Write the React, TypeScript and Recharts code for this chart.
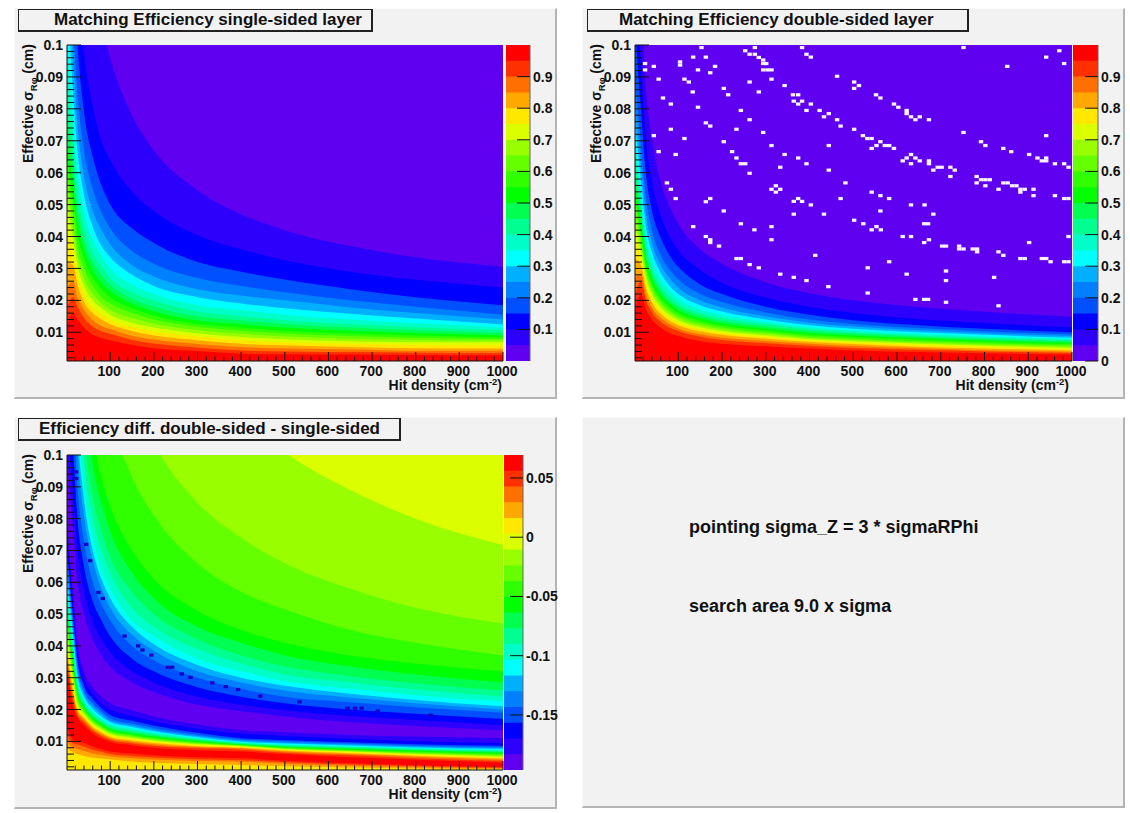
import React from "react";
import { ComposedChart, Area, Scatter, XAxis, YAxis, ReferenceArea } from "recharts";

const FONT = "'Liberation Sans', Arial, sans-serif";

// Sampled hit densities (cm^-2) at which the colour-band boundaries were read.
const hitDensity = [1, 15, 25, 40, 60, 80, 100, 150, 200, 300, 400, 500, 650, 800, 1000];

// Palette, bottom band to top band.
const palette = [
  "#6000f0", "#2c00fa", "#0000ff", "#0050ff", "#0080ff", "#00b0ff", "#00ffff", "#00ffc8", "#00ff90", "#00ff50",
  "#00ff00", "#30ff00", "#66ff00", "#99ff00", "#dcff00", "#ffe800", "#ffa800", "#ff7000", "#ff3000", "#ff0000",
];

// Single-sided efficiency: boundary sigma (10^-3 cm) vs hit density, per efficiency level.
const single05 = [300, 248, 192, 152, 124, 107, 96, 78, 67, 54.5, 47, 42, 37, 33.5, 30.5];
const single10 = [260, 155, 122, 98, 81, 70, 64, 54, 48, 40.4, 36, 32.6, 29, 26.5, 24];
const single15 = [200, 125, 100, 79, 65, 56, 50, 42.5, 38, 32, 29, 26.5, 23.5, 21, 18.5];
const single20 = [170, 108, 85, 67, 55, 47.5, 42.5, 35.5, 31.5, 27, 24.5, 22.5, 20, 18, 15.5];
const single25 = [140, 96, 75, 59, 48, 42, 37.5, 31, 27.5, 23.5, 21.5, 20, 17.8, 16, 14];
const single30 = [118, 85, 67, 53, 43, 37, 33.5, 28, 24.5, 21, 19, 17.5, 15.8, 14.3, 12.4];
const single35 = [100, 76, 60, 48, 39, 34, 30, 25, 22, 18.5, 17, 15.5, 14, 12.8, 11.4];
const single40 = [90, 68, 54, 43, 35, 30.5, 27, 22.5, 20, 16.5, 15, 13.8, 12.6, 11.6, 10.6];
const single45 = [80, 62, 49, 39, 32, 28, 25, 20.5, 18, 15, 13.7, 12.6, 11.5, 10.6, 9.8];
const single50 = [71, 56, 45, 36, 29.5, 25.5, 23, 19, 16.5, 13.7, 12.5, 11.5, 10.5, 9.8, 9];
const single55 = [65, 52, 41, 33, 27, 23.5, 21, 17.5, 15.2, 12.6, 11.5, 10.5, 9.6, 9, 8.4];
const single60 = [60, 47, 37, 30, 24.5, 21, 19, 16, 14, 11.7, 10.5, 9.6, 8.8, 8.3, 7.9];
const single65 = [55, 43, 34, 27, 22, 19, 17, 14.5, 12.7, 10.7, 9.5, 8.7, 8, 7.6, 7.4];
const single70 = [50, 39, 31, 24.5, 20, 17.5, 15.5, 13, 11.5, 9.7, 8.5, 7.8, 7.2, 6.9, 6.9];
const single75 = [42, 35, 28, 22, 18, 15.7, 14, 11.7, 10.3, 8.7, 7.5, 6.9, 6.4, 6.1, 5.9];
const single80 = [32, 31, 25, 19.5, 16, 14, 12.5, 10.4, 9, 7.5, 6.4, 5.9, 5.4, 5, 4.9];
const single85 = [24, 26, 21, 17, 13.8, 12, 11, 8.9, 7.7, 6.3, 5.3, 4.9, 4.6, 4.2, 4.2];
const single90 = [18, 21, 18, 14.5, 11.8, 10.3, 9.5, 7.6, 6.5, 5.2, 4.3, 4, 3.8, 3.6, 3.5];
const single95 = [12, 16, 14, 11.5, 9.3, 8.2, 7.5, 6, 5, 4.1, 3.3, 3.1, 3, 2.9, 2.8];

// Double-sided efficiency: boundary sigma per hit density column, efficiency levels 0.05 .. 0.95.
const doubleAt1 = [150, 125, 105, 90, 82, 75, 70, 65, 61, 57, 53, 50, 46, 43, 39, 33, 27, 22, 17];
const doubleAt15 = [115, 93, 79, 68, 62, 57, 53, 49, 46.5, 44, 41, 39, 37, 35, 33, 31, 28.5, 26, 22];
const doubleAt25 = [88, 72, 61, 53, 48, 44, 41, 38, 36, 34, 32, 30.4, 29, 27.6, 26, 24.4, 22.4, 20.6, 17.6];
const doubleAt40 = [70, 57, 48, 42, 38, 35, 32.5, 30, 28.5, 27, 25.3, 24, 23, 21.8, 20.6, 19.3, 17.7, 16.3, 14];
const doubleAt60 = [57, 46.5, 39.5, 34, 31, 28.5, 26.5, 24.5, 23.2, 22, 20.6, 19.6, 18.7, 17.8, 16.8, 15.7, 14.5, 13.3, 11.4];
const doubleAt80 = [49.5, 40, 34, 29.7, 27, 24.6, 23, 21.3, 20, 19, 18, 17, 16.2, 15.4, 14.5, 13.6, 12.5, 11.5, 9.8];
const doubleAt100 = [44, 35.7, 30.5, 26.5, 24, 22, 20.5, 19, 18, 17, 16, 15.2, 14.5, 13.8, 13, 12.2, 11.2, 10.3, 8.8];
const doubleAt150 = [36, 29.5, 25, 22, 20, 18.5, 17.2, 16, 15.2, 14.4, 13.6, 12.9, 12.2, 11.6, 11, 10.3, 9.4, 8.6, 7.2];
const doubleAt200 = [31.5, 25.5, 22, 19.5, 17.8, 16.5, 15.4, 14.4, 13.6, 12.8, 12.1, 11.5, 10.9, 10.4, 9.8, 9.2, 8.4, 7.6, 6.4];
const doubleAt300 = [25.7, 20.8, 18, 16.2, 15, 14, 13.2, 12.6, 11.9, 11.2, 10.6, 10, 9.5, 9, 8.6, 8, 7.3, 6.6, 5.6];
const doubleAt400 = [22.2, 18, 15.5, 14, 13, 12.2, 11.5, 11, 10.4, 9.8, 9.2, 8.7, 8.2, 7.8, 7.4, 7, 6.4, 5.8, 4.9];
const doubleAt500 = [20, 16, 13.8, 12.6, 11.8, 11.1, 10.5, 10, 9.5, 9, 8.5, 8, 7.6, 7.2, 6.8, 6.3, 5.7, 5.1, 4.3];
const doubleAt650 = [17.9, 14.1, 12.2, 11.3, 10.6, 10, 9.5, 9, 8.6, 8.1, 7.7, 7.2, 6.8, 6.4, 6, 5.5, 5, 4.5, 3.8];
const doubleAt800 = [16.4, 12.9, 11.1, 10.3, 9.7, 9.2, 8.7, 8.3, 7.9, 7.4, 7, 6.6, 6.2, 5.8, 5.4, 4.9, 4.4, 4, 3.4];
const doubleAt1000 = [14.9, 11.5, 10, 9.3, 8.8, 8.3, 7.9, 7.5, 7.1, 6.7, 6.3, 5.9, 5.5, 5.1, 4.7, 4.3, 3.9, 3.5, 3];

// Efficiency difference, upper slope: boundary below which band 13, 12 ... 0 begins.
const diffUpper13 = [900, 580, 450, 356, 290, 252, 225, 184, 159, 130, 113, 101, 89, 80, 71.7];
const diffUpper12 = [400, 377, 292, 231, 188, 163, 146, 120, 104, 85, 74, 66, 58, 52, 47];
const diffUpper11 = [300, 292, 226, 179, 146, 127, 113, 93, 81, 66, 57, 51.5, 45, 41, 37];
const diffUpper10 = [250, 212, 165, 131, 107, 93, 84, 70, 61, 51, 45, 41, 37, 34.5, 32];
const diffUpper9 = [220, 193, 150, 119, 97, 85, 76, 63, 55, 46, 41, 37, 33.5, 31, 28.5];
const diffUpper8 = [200, 173, 134, 106, 87, 76, 68, 57, 50, 42, 37, 33.5, 30.5, 28.3, 26];
const diffUpper7 = [185, 160, 124, 98, 80, 70, 63, 52, 46, 39, 34.5, 31, 28.5, 26.3, 24];
const diffUpper6 = [170, 147, 114, 90, 74, 64, 58, 48, 43, 36, 32, 29, 26.5, 24.5, 22.5];
const diffUpper5 = [160, 140, 108, 86, 70, 61, 55, 46, 40.5, 34, 30, 27.5, 25, 23, 21];
const diffUpper4 = [150, 132, 102, 81, 67, 58, 52, 43.5, 38.5, 32, 28.5, 26, 23.8, 22, 20];
const diffUpper3 = [135, 115, 90, 73, 60, 53, 48, 40, 35.5, 30, 26.5, 24, 22.3, 20.7, 19];
const diffUpper2 = [120, 101, 80, 65, 54, 48, 43, 36, 32, 27, 24, 22, 20, 18.7, 17];
const diffUpper1 = [110, 88, 70, 57, 47.5, 42, 38, 32, 28.5, 24, 21.5, 19.8, 18, 16.7, 15.1];
const diffUpper0 = [100, 76, 60, 50, 42, 37, 33.5, 28.5, 25.5, 21.5, 19.5, 17.8, 16, 14.8, 13.5];

// Efficiency difference, lower slope per hit density column: bands 1..19, then 18, 17, 16, 15.
const diffLowerBands = [1, 2, 3, 4, 5, 6, 7, 8, 9, 10, 11, 12, 13, 14, 15, 16, 17, 18, 19, 18, 17, 16, 15];
const diffLowAt1 = [80, 74, 70, 67, 64, 61, 59, 56, 53, 51, 49, 47, 45, 43, 41, 39, 37, 35, 33, 14.5, 12, 10, 8];
const diffLowAt15 = [56, 52, 49, 47, 45, 43, 41, 39, 37, 35, 33.5, 32, 30.5, 29, 27.5, 26, 24.5, 23, 21, 10.5, 9.3, 8, 6.5];
const diffLowAt25 = [41, 38, 35.5, 33.5, 32, 30.5, 29, 27.8, 26.6, 25.5, 24.5, 23.5, 22.5, 21.5, 20.7, 20, 19.2, 18.4, 17.5, 10, 9, 7.6, 6];
const diffLowAt40 = [32, 29.5, 27.5, 26, 25, 24, 23, 22.2, 21.5, 20.8, 20.2, 19.6, 19, 18.5, 18, 17.4, 16.8, 16, 15, 9.5, 8.3, 7, 5.4];
const diffLowAt60 = [27, 25, 23.3, 22, 21, 20.2, 19.4, 18.7, 18, 17.5, 17, 16.5, 16, 15.5, 15, 14.5, 14, 13.3, 12.5, 8.4, 7.4, 6.2, 4.9];
const diffLowAt80 = [24, 22, 20.4, 19.5, 18.6, 17.8, 17.2, 16.5, 16, 15.5, 15, 14.6, 14.2, 13.8, 13.3, 12.8, 12.3, 11.7, 11, 7.5, 6.7, 5.8, 4.6];
const diffLowAt100 = [22, 20, 18.3, 17.3, 16.5, 16, 15.4, 14.9, 14.3, 13.8, 13.4, 13, 12.6, 12.2, 11.9, 11.4, 11, 10.5, 9.9, 6.8, 6, 5.3, 4.3];
const diffLowAt150 = [19.8, 18, 16.5, 15.6, 15, 14.5, 14, 13.5, 13, 12.5, 12.1, 11.8, 11.4, 11.1, 10.7, 10.3, 9.9, 9.4, 8.8, 6.2, 5.4, 4.7, 3.7];
const diffLowAt200 = [17.8, 16.3, 15, 14.2, 13.6, 13.2, 12.8, 12.3, 11.9, 11.5, 11.1, 10.8, 10.5, 10.2, 9.9, 9.5, 9.1, 8.6, 8, 5.6, 4.9, 4.3, 3.3];
const diffLowAt300 = [15.3, 14, 12.7, 12.1, 11.7, 11.3, 11, 10.7, 10.4, 10.1, 9.8, 9.5, 9.3, 9.1, 8.8, 8.5, 8.2, 7.8, 7.2, 5, 4.4, 3.8, 2.9];
const diffLowAt400 = [13.5, 12.5, 11, 10.6, 10.3, 9.9, 9.7, 9.5, 9.2, 9, 8.9, 8.7, 8.6, 8.5, 8.3, 8, 7.8, 7.4, 6.8, 4.7, 4.1, 3.6, 2.6];
const diffLowAt500 = [12.9, 11.7, 10.4, 10, 9.6, 9.3, 9, 8.8, 8.5, 8.3, 8.1, 7.9, 7.7, 7.5, 7.3, 7.1, 6.8, 6.4, 6, 3.9, 3.4, 3, 2.2];
const diffLowAt650 = [12, 10.8, 9.7, 9.3, 9, 8.7, 8.4, 8.2, 7.9, 7.7, 7.4, 7.2, 7, 6.8, 6.6, 6.3, 6, 5.6, 5, 3.1, 2.7, 2.3, 1.8];
const diffLowAt800 = [11.5, 10, 9.1, 8.7, 8.4, 8.1, 7.8, 7.6, 7.3, 7.1, 6.8, 6.5, 6.2, 6, 5.8, 5.5, 5.2, 4.7, 4.2, 2.5, 2.2, 1.9, 1.5];
const diffLowAt1000 = [11, 9.4, 8.6, 8.2, 7.9, 7.6, 7.3, 7, 6.7, 6.4, 6.1, 5.8, 5.5, 5.2, 4.9, 4.6, 4.2, 3.8, 3.3, 1.9, 1.7, 1.5, 1.3];

// Empty (white) cells in the double-sided map: [hit density, sigma in 10^-3 cm].
const whiteCells: [number, number][] = [
  [153, 99.2], [253, 98.2], [275, 99.2], [263, 97.1], [275, 97.1], [284, 96.1], [134, 96.2], [163, 96.2], [403, 96.2], [383, 99.2], [393, 97.1],
  [294, 95.3], [301, 94.2], [294, 94.2], [104, 94.7], [104, 93.7], [24, 94.2], [44, 93.3], [184, 93.3], [24, 92.2], [145, 92.2], [173, 91.3], [294, 92.2], [304, 92.2], [313, 92.2],
  [463, 90.2], [55, 89.3], [114, 89.3], [124, 88.4], [263, 88.4], [313, 89.3], [343, 87.3], [502, 88.4], [502, 86.4], [204, 86.4], [133, 85.3], [284, 85.3], [214, 84.4], [362, 84.4], [374, 84.4],
  [65, 83.4], [364, 82.4], [383, 82.4], [83, 81.5], [374, 81.5], [403, 81.5], [145, 80.5], [243, 79.5], [393, 79.5], [423, 79.5], [444, 78.5], [433, 77.5], [263, 76.6], [463, 76.6], [163, 75.6], [173, 74.6], [471, 74.6],
  [83, 73.6], [233, 73.6], [502, 73.6], [294, 72.6], [44, 71.6], [114, 70.7], [204, 69.7], [313, 68.5], [444, 68.5], [55, 66.6], [223, 66.6], [94, 65.7], [343, 65.7], [233, 64.6], [374, 64.6], [243, 62.8], [253, 62.8], [393, 62.8], [333, 61.7], [263, 59.8], [444, 60.8],
  [74, 56.8], [482, 56.8], [323, 55.9], [313, 54.8], [333, 54.8], [323, 53.9], [83, 54.8], [94, 51.9], [173, 51.9], [374, 51.9], [471, 51.9],
  [752, 99.2], [971, 98.2], [941, 96.2], [982, 94.2], [852, 93.3], [513, 87.3], [552, 84.4], [562, 83.4], [593, 81.5], [603, 80.5], [622, 79.5], [622, 78.5], [632, 77.5], [642, 76.6], [652, 77.5], [673, 76.6],
  [752, 72.6], [522, 71.6], [532, 70.7], [542, 70.7], [941, 71.6], [562, 69.7], [572, 68.5], [582, 68.5], [593, 67.6], [553, 68.5], [542, 67.6], [792, 69.7], [802, 68.5], [843, 67.6], [861, 66.6],
  [902, 65.7], [921, 64.6], [931, 63.7], [941, 63.7], [941, 64.6], [961, 62.8], [982, 62.8], [992, 61.7], [632, 65.7], [622, 64.6], [642, 64.6], [613, 63.7], [632, 62.8], [652, 63.7], [673, 63.7], [673, 62.8],
  [683, 60.8], [693, 61.7], [702, 61.7], [722, 61.7], [732, 60.8], [722, 58.8], [782, 58.8], [782, 56.8], [792, 57.8], [802, 57.8], [812, 57.8], [802, 55.9], [832, 54.8], [843, 56.8], [853, 56.8], [863, 55.9], [873, 55.9], [882, 54.8], [892, 54.8], [882, 53.9], [912, 54.8], [912, 52.8],
  [542, 53.9], [562, 52.8], [582, 51.9], [961, 52.8], [982, 51.9], [992, 51.9],
  [163, 50.9], [204, 48], [243, 44], [364, 51], [383, 51], [403, 49.9], [364, 47], [433, 47], [502, 45.1], [134, 43.1], [274, 42.1], [313, 43.1], [163, 40], [173, 39], [173, 38.1], [193, 37],
  [313, 39], [413, 34.1], [233, 33.1], [243, 33.1], [263, 31.2], [284, 30.2], [333, 28.2], [364, 27.2], [393, 26.2], [443, 24.3],
  [632, 49.9], [663, 49.9], [562, 48], [683, 47], [523, 44], [662, 44], [671, 44], [553, 43.1], [542, 42.1], [563, 42.1], [613, 40], [632, 40], [992, 40], [673, 39], [662, 38.1], [902, 38.1],
  [703, 37], [712, 37], [742, 37], [742, 36.1], [752, 36.1], [773, 36.1], [783, 36.1], [783, 35.2], [832, 35.2], [843, 34.1], [882, 33.1], [892, 33.1], [931, 33.1], [941, 33.1], [951, 32.1], [982, 32.1], [992, 32.1], [582, 32.1],
  [533, 30.2], [622, 28.2], [712, 29.2], [712, 26.2], [822, 27.2], [533, 22.3], [642, 20.3], [662, 20.3], [671, 20.3], [712, 19.4], [832, 18.3],
];

// Darker cells that show through in the difference map.
const darkCells: [number, number][] = [
  [22, 94.7], [22, 92.6], [45, 71.9], [54, 66.8], [73, 56.8], [83, 54.9], [133, 43.1], [164, 40], [174, 38.7], [194, 37.1], [232, 33.3], [242, 33.3], [264, 31.2], [284, 30.1],
  [334, 28.4], [365, 27.2], [393, 26.3], [444, 24.2], [534, 22.4], [644, 20.4], [661, 20.4], [676, 20.4], [713, 19.5], [834, 18.2],
];

const efficiencyEdges = [1, 0.95, 0.9, 0.85, 0.8, 0.75, 0.7, 0.65, 0.6, 0.55, 0.5, 0.45, 0.4, 0.35, 0.3, 0.25, 0.2, 0.15, 0.1, 0.05];
const diffEdges = [0.0694, 0.0561, 0.0428, 0.0295, 0.0162, 0.0029, -0.0104, -0.0237, -0.037, -0.0503, -0.0636, -0.0769, -0.0902, -0.1035, -0.1168, -0.1301, -0.1434, -0.1567, -0.17, -0.1833];
const efficiencyTicksNoZero = [0.1, 0.2, 0.3, 0.4, 0.5, 0.6, 0.7, 0.8, 0.9];
const efficiencyTicks = [0, 0.1, 0.2, 0.3, 0.4, 0.5, 0.6, 0.7, 0.8, 0.9];
const diffTicks = [-0.15, -0.1, -0.05, 0, 0.05];
const sigmaTicks = [2, 4, 6, 8, 10, 12, 14, 16, 18, 20, 22, 24, 26, 28, 30, 32, 34, 36, 38, 40, 42, 44, 46, 48, 50, 52, 54, 56, 58, 60, 62, 64, 66, 68, 70, 72, 74, 76, 78, 80, 82, 84, 86, 88, 90, 92, 94, 96, 98, 100];
const densityTicks = [20, 40, 60, 80, 100, 120, 140, 160, 180, 200, 220, 240, 260, 280, 300, 320, 340, 360, 380, 400, 420, 440, 460, 480, 500, 520, 540, 560, 580, 600, 620, 640, 660, 680, 700, 720, 740, 760, 780, 800, 820, 840, 860, 880, 900, 920, 940, 960, 980, 1000];

const singleLevels = [single05, single10, single15, single20, single25, single30, single35, single40, single45, single50, single55, single60, single65, single70, single75, single80, single85, single90, single95];
const doubleColumns = [doubleAt1, doubleAt15, doubleAt25, doubleAt40, doubleAt60, doubleAt80, doubleAt100, doubleAt150, doubleAt200, doubleAt300, doubleAt400, doubleAt500, doubleAt650, doubleAt800, doubleAt1000];
const diffUpperLevels = [diffUpper13, diffUpper12, diffUpper11, diffUpper10, diffUpper9, diffUpper8, diffUpper7, diffUpper6, diffUpper5, diffUpper4, diffUpper3, diffUpper2, diffUpper1, diffUpper0];
const diffLowColumns = [diffLowAt1, diffLowAt15, diffLowAt25, diffLowAt40, diffLowAt60, diffLowAt80, diffLowAt100, diffLowAt150, diffLowAt200, diffLowAt300, diffLowAt400, diffLowAt500, diffLowAt650, diffLowAt800, diffLowAt1000];

const transpose = (columns: number[][]) => columns[0].map((_, i) => columns.map((c) => c[i]));
const toRows = (levels: number[][]) =>
  hitDensity.map((x, i) => {
    const row: Record<string, number> = { x };
    levels.forEach((lv, k) => (row["c" + k] = lv[i]));
    return row;
  });

const bandSeq19 = [1, 2, 3, 4, 5, 6, 7, 8, 9, 10, 11, 12, 13, 14, 15, 16, 17, 18, 19];
const diffUpperBands = [13, 12, 11, 10, 9, 8, 7, 6, 5, 4, 3, 2, 1, 0];

const singleRows = toRows(singleLevels);
const doubleRows = toRows(transpose(doubleColumns));
const diffLevels = [...diffUpperLevels, ...transpose(diffLowColumns)];
const diffRows = toRows(diffLevels);
const diffBands = [...diffUpperBands, ...diffLowerBands];

const fmtTick = (v: number) => String(Number(v.toFixed(3)));

const XTick = (props: any) => {
  const { x, y, payload } = props;
  const major = payload.value % 100 === 0;
  return (
    <g>
      <line x1={x} x2={x} y1={y} y2={y - (major ? 9 : 4.5)} stroke="#111" strokeWidth={1} />
      {major && (
        <text x={x - 1} y={y + 14.5} textAnchor="middle" fontFamily={FONT} fontWeight="bold" fontSize={14} fill="#111">
          {payload.value}
        </text>
      )}
    </g>
  );
};

const YTick = (props: any) => {
  const { x, y, payload } = props;
  const major = payload.value % 10 === 0;
  return (
    <g>
      <line x1={x} x2={x + (major ? 14 : 7)} y1={y} y2={y} stroke="#111" strokeWidth={1} />
      {major && (
        <text x={x - 4} y={y + 5} textAnchor="end" fontFamily={FONT} fontWeight="bold" fontSize={14} fill="#111">
          {fmtTick(payload.value / 1000)}
        </text>
      )}
    </g>
  );
};

const BarTick = (props: any) => {
  const { x, y, payload } = props;
  return (
    <g>
      <line x1={x - 13} x2={x} y1={y} y2={y} stroke="#111" strokeWidth={1} />
      <text x={x + 3} y={y + 5} fontFamily={FONT} fontWeight="bold" fontSize={14} fill="#111">
        {fmtTick(payload.value)}
      </text>
    </g>
  );
};

const cellShape = (fill: string) => (p: any) => <rect x={p.cx - 2.2} y={p.cy - 1.6} width={4.4} height={3.2} fill={fill} />;

type MapProps = {
  left: number; top: number; bottom: number; plotLeft: number; plotRight: number; padTop: number; padBottom: number;
  rows: Record<string, number>[]; bands: number[]; background: number; cells?: [number, number][]; cellColor?: string;
};

function HeatMap({ plotLeft, plotRight, top, bottom, left, padTop, padBottom, rows, bands, background, cells, cellColor }: MapProps) {
  const yAxisW = plotLeft - left;
  const xAxisH = padBottom - bottom;
  const points = cells ? cells.map(([x, sigma]) => ({ x, sigma })) : [];
  return (
    <div style={{ position: "absolute", left, top: padTop }}>
      <ComposedChart
        width={plotRight - left + 30}
        height={padBottom - padTop}
        data={rows}
        margin={{ left: 0, right: 30, top: top - padTop, bottom: 0 }}
      >
        <XAxis type="number" dataKey="x" domain={[1, 1000]} allowDataOverflow ticks={densityTicks} interval={0} tick={XTick} tickLine={false} tickSize={0} tickMargin={0} height={xAxisH} axisLine={{ stroke: "#111" }} />
        <YAxis type="number" domain={[1, 100]} allowDataOverflow ticks={sigmaTicks} interval={0} tick={YTick} tickLine={false} tickSize={0} tickMargin={0} width={yAxisW} axisLine={{ stroke: "#111" }} />
        <ReferenceArea x1={1} x2={1000} y1={1} y2={100} fill={palette[background]} fillOpacity={1} stroke="none" ifOverflow="hidden" />
        {bands.map((b, k) => (
          <Area key={k} dataKey={"c" + k} type="monotone" baseValue={1} fill={palette[b]} fillOpacity={1} stroke="none" dot={false} activeDot={false} isAnimationActive={false} />
        ))}
        {cells && <Scatter data={points} dataKey="sigma" isAnimationActive={false} shape={cellShape(cellColor || "#fff")} />}
      </ComposedChart>
    </div>
  );
}

type BarProps = { left: number; right: number; top: number; bottom: number; padTop: number; padBottom: number; edges: number[]; min: number; ticks: number[] };

function ColorBar({ left, right, top, bottom, padTop, padBottom, edges, min, ticks }: BarProps) {
  const rows = [0, 1].map((x) => {
    const row: Record<string, number> = { x };
    edges.forEach((e, k) => (row["e" + k] = e));
    return row;
  });
  return (
    <div style={{ position: "absolute", left, top: padTop }}>
      <ComposedChart width={right - left + 48} height={padBottom - padTop} data={rows} margin={{ left: 0, right: 0, top: top - padTop, bottom: padBottom - bottom }}>
        <XAxis type="number" dataKey="x" domain={[0, 1]} hide />
        <YAxis type="number" orientation="right" domain={[min, edges[0]]} allowDataOverflow ticks={ticks} interval={0} tick={BarTick} tickLine={false} tickSize={0} tickMargin={0} width={48} axisLine={{ stroke: "#666" }} />
        {edges.map((e, k) => (
          <Area key={k} dataKey={"e" + k} type="linear" baseValue={min} fill={palette[19 - k]} fillOpacity={1} stroke="none" dot={false} activeDot={false} isAnimationActive={false} />
        ))}
      </ComposedChart>
    </div>
  );
}

const padStyle = (l: number, t: number, r: number, b: number): React.CSSProperties => ({
  position: "absolute", left: l, top: t, width: r - l, height: b - t, boxSizing: "border-box", background: "#f2f2f2",
  borderRight: "2px solid #b4b4b4", borderBottom: "2px solid #b4b4b4", borderTop: "1px solid #fafafa", borderLeft: "1px solid #fafafa",
});

function Title({ l, t, r, b, textLeft, children }: { l: number; t: number; r: number; b: number; textLeft: number; children: React.ReactNode }) {
  return (
    <div style={{ position: "absolute", left: l, top: t, width: r - l, height: b - t, boxSizing: "border-box", background: "#f2f2f2", border: "1px solid #222", borderRightWidth: 2, borderBottomWidth: 2, fontFamily: FONT, fontWeight: "bold", fontSize: 17, color: "#111", lineHeight: `${b - t - 4}px`, whiteSpace: "nowrap" }}>
      <span style={{ position: "absolute", left: textLeft - l }}>{children}</span>
    </div>
  );
}

function AxisTitles({ yx, yy, xx, xy }: { yx: number; yy: number; xx: number; xy: number }) {
  return (
    <g fontFamily={FONT} fontWeight="bold" fontSize={14} fill="#111">
      <text transform={`rotate(-90 ${yx} ${yy})`} x={yx} y={yy}>
        Effective σ
        <tspan fontSize={9.5} dy={4}>Rφ</tspan>
        <tspan dy={-4}> (cm)</tspan>
      </text>
      <text x={xx} y={xy} textAnchor="end">
        Hit density (cm
        <tspan fontSize={9.5} dy={-5}>-2</tspan>
        <tspan dy={5}>)</tspan>
      </text>
    </g>
  );
}

export default function App() {
  return (
    <div style={{ position: "absolute", left: 0, top: 0, width: 1130, height: 813, background: "#fff", overflow: "hidden" }}>
      <div style={padStyle(14, 8, 557, 399)} />
      <div style={padStyle(582, 8, 1125, 399)} />
      <div style={padStyle(14, 417, 557, 809)} />
      <div style={padStyle(582, 417, 1125, 808)} />

      <HeatMap left={14} plotLeft={67} plotRight={503} top={45} bottom={361} padTop={8} padBottom={398} rows={singleRows} bands={bandSeq19} background={0} />
      <ColorBar left={506} right={530} top={45} bottom={361} padTop={8} padBottom={398} edges={efficiencyEdges} min={0} ticks={efficiencyTicksNoZero} />

      <HeatMap left={582} plotLeft={635} plotRight={1072} top={45} bottom={361} padTop={8} padBottom={398} rows={doubleRows} bands={bandSeq19} background={0} cells={whiteCells} cellColor="#fdf4fd" />
      <ColorBar left={1073} right={1098} top={45} bottom={361} padTop={8} padBottom={398} edges={efficiencyEdges} min={0} ticks={efficiencyTicks} />

      <HeatMap left={14} plotLeft={67} plotRight={503} top={455} bottom={770} padTop={417} padBottom={808} rows={diffRows} bands={diffBands} background={14} cells={darkCells} cellColor="#1c00c8" />
      <ColorBar left={504} right={523} top={455} bottom={770} padTop={417} padBottom={808} edges={diffEdges} min={-0.1965} ticks={diffTicks} />

      <svg width={1130} height={813} style={{ position: "absolute", left: 0, top: 0, pointerEvents: "none" }}>
        <AxisTitles yx={33} yy={163} xx={502} xy={390} />
        <AxisTitles yx={601} yy={163} xx={1069} xy={390} />
        <AxisTitles yx={33} yy={573} xx={502} xy={799} />
      </svg>

      <Title l={18} t={9} r={373} b={32} textLeft={53}>Matching Efficiency single-sided layer</Title>
      <Title l={587} t={9} r={969} b={32} textLeft={618}>Matching Efficiency double-sided layer</Title>
      <Title l={18} t={418} r={401} b={441} textLeft={38}>Efficiency diff. double-sided - single-sided</Title>

      <div style={{ position: "absolute", left: 689, top: 517, fontFamily: FONT, fontWeight: "bold", fontSize: 18, color: "#111", whiteSpace: "nowrap" }}>pointing sigma_Z = 3 * sigmaRPhi</div>
      <div style={{ position: "absolute", left: 689, top: 596, fontFamily: FONT, fontWeight: "bold", fontSize: 18, color: "#111", whiteSpace: "nowrap" }}>search area 9.0 x sigma</div>
    </div>
  );
}
